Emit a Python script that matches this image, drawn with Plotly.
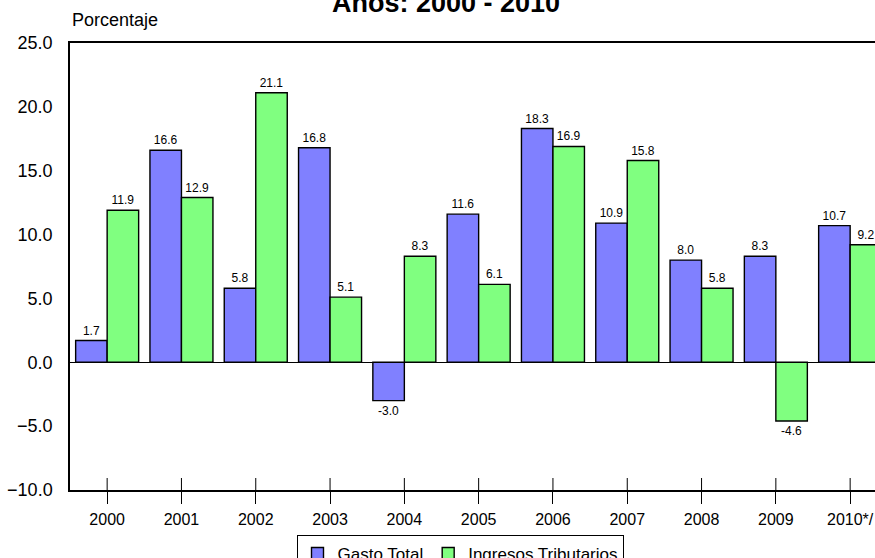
import plotly.graph_objects as go

years = ["2000", "2001", "2002", "2003", "2004", "2005", "2006", "2007", "2008", "2009", "2010*/"]
gasto_total = [1.7, 16.6, 5.8, 16.8, -3.0, 11.6, 18.3, 10.9, 8.0, 8.3, 10.7]
ingresos_tributarios = [11.9, 12.9, 21.1, 5.1, 8.3, 6.1, 16.9, 15.8, 5.8, -4.6, 9.2]
y_ticks = [-10, -5, 0, 5, 10, 15, 20, 25]

FONT = "Liberation Sans, Arial, sans-serif"
x_idx = list(range(len(years)))

# figure geometry in page pixels
L, T, H_PLOT, W, H = 70, 43, 447, 875, 558
W_PLOT = W - L
CAT_W = 74.3

fig = go.Figure()
fig.add_trace(go.Bar(
    x=x_idx, y=gasto_total, name="Gasto Total",
    marker=dict(color="#8080FF", line=dict(color="black", width=1.4)),
    texttemplate="%{y:.1f}", textposition="outside",
    textfont=dict(size=12, color="black", family=FONT), cliponaxis=False,
))
fig.add_trace(go.Bar(
    x=x_idx, y=ingresos_tributarios, name="Ingresos Tributarios",
    marker=dict(color="#80FF80", line=dict(color="black", width=1.4)),
    texttemplate="%{y:.1f}", textposition="outside",
    textfont=dict(size=12, color="black", family=FONT), cliponaxis=False,
))

# inner half of the x tick marks (ticks cross the axis line)
for i in x_idx:
    fig.add_shape(type="line", xref="x", yref="paper", x0=i, x1=i, y0=0, y1=12 / H_PLOT,
                  line=dict(color="black", width=1))

def py(fy):
    return 1 - (fy - T) / H_PLOT

def px(fx):
    return (fx - L) / W_PLOT

fig.update_layout(
    width=W, height=H,
    margin=dict(l=L, r=0, t=T, b=H - T - H_PLOT, autoexpand=False),
    paper_bgcolor="white", plot_bgcolor="white",
    barmode="group", bargap=0.152, bargroupgap=0,
    font=dict(family=FONT, color="black"),
    showlegend=True,
    legend=dict(orientation="h", x=px(460), xanchor="center", y=py(535), yanchor="top",
                bordercolor="black", borderwidth=1, font=dict(size=17, family=FONT),
                itemwidth=30, tracegroupgap=0),
    xaxis=dict(
        range=[-0.5, -0.5 + W_PLOT / CAT_W], tickmode="array", tickvals=x_idx, ticktext=years,
        ticks="outside", ticklen=12, tickcolor="black", tickwidth=1,
        showline=True, linecolor="black", linewidth=1.5, mirror=True,
        showgrid=False, zeroline=False, tickfont=dict(size=16, family=FONT),
        ticklabelstandoff=2,
    ),
    yaxis=dict(
        range=[-10, 25], tickmode="array", tickvals=y_ticks, tickformat=".1f",
        ticks="", showline=True, linecolor="black", linewidth=1.5,
        showgrid=False, zeroline=True, zerolinecolor="black", zerolinewidth=1.3,
        tickfont=dict(size=18, family=FONT), ticklabelstandoff=12,
    ),
    annotations=[
        dict(text="<b>Años: 2000 - 2010</b>", xref="paper", yref="paper",
             x=px(446), y=py(3.0), xanchor="center", yanchor="middle",
             showarrow=False, font=dict(size=27, family=FONT, color="black")),
        dict(text="Porcentaje", xref="paper", yref="paper",
             x=px(70), y=py(20), xanchor="left", yanchor="middle",
             showarrow=False, font=dict(size=18, family=FONT, color="black")),
    ],
)

fig.write_html("out.html", config={"displayModeBar": False},
               post_script="document.body.style.margin='0px';")
